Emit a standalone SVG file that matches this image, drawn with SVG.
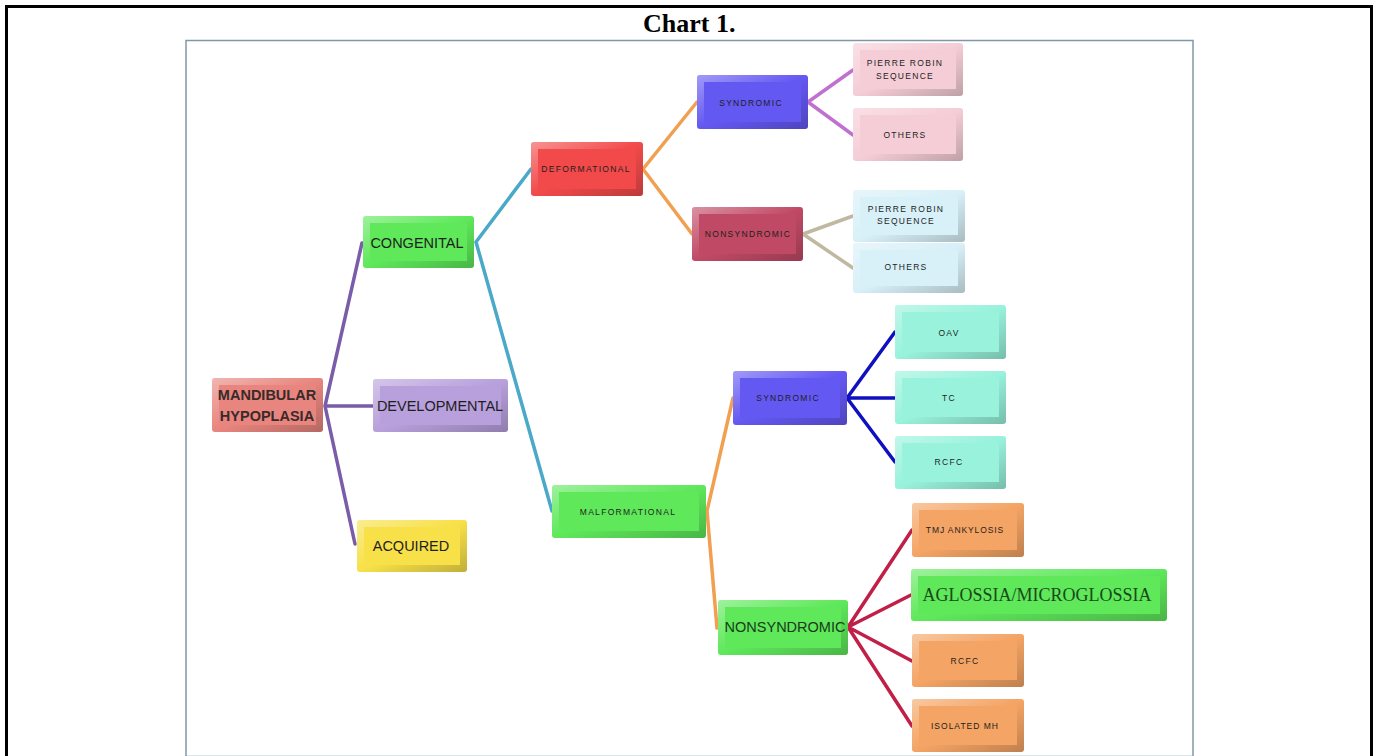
<svg xmlns="http://www.w3.org/2000/svg" width="1376" height="756" viewBox="0 0 1376 756">
<style>
.frame{fill:none;stroke:#000;stroke-width:3}
.img{fill:#fff;stroke:#7f98a8;stroke-width:1.5}
.bv{fill:url(#bev)}
.red{fill:#e8857e}.lav{fill:#b8a0dc}.yel{fill:#f7e048}.grn{fill:#5ee85a}.dred{fill:#f24a4a}
.blu{fill:#6458f2}.rasp{fill:#c04a66}.pnk{fill:#f5cdd6}.lbl{fill:#d8f0f8}.aqu{fill:#98f2dc}.org{fill:#f4a464}
text{font-family:"Liberation Sans",Arial,sans-serif;fill:#1e1e1e;text-anchor:middle}
.big{font-size:14.5px}
.sm{font-size:8.5px;letter-spacing:1.3px}
.ser{font-family:"Liberation Serif","Times New Roman",serif;font-size:18px;fill:#1a4a1a}
.title{font-family:"Liberation Serif","Times New Roman",serif;font-size:26px;font-weight:bold;fill:#000;text-anchor:start}
.c{fill:none;stroke-width:3.5;stroke-linecap:round}
</style>
<defs>
<linearGradient id="bev" x1="0" y1="0" x2="1" y2="1">
<stop offset="0" stop-color="#fff" stop-opacity="0.4"/>
<stop offset="0.5" stop-color="#fff" stop-opacity="0"/>
<stop offset="0.5" stop-color="#000" stop-opacity="0"/>
<stop offset="1" stop-color="#000" stop-opacity="0.22"/>
</linearGradient>
</defs>
<rect width="1376" height="756" fill="#fff"/>
<path class="frame" d="M6.5,760 V6.5 H1371.5 V760"/>
<text class="title" x="643" y="32">Chart 1.</text>
<rect class="img" x="186" y="40.5" width="1007" height="716"/>

<g id="connectors">
<path class="c" stroke="#7a5ca8" d="M325,406 L362,243 M325,406 L373,406 M325,406 L355,544"/>
<path class="c" stroke="#4aa8c8" d="M476,242 L531,169 M476,242 L552,511"/>
<path class="c" stroke="#f0a050" d="M643,169 L697,102 M643,169 L692,234"/>
<path class="c" stroke="#c070d0" d="M808,102 L853,70 M808,102 L853,135"/>
<path class="c" stroke="#c0b8a0" d="M803,234 L853,216 M803,234 L853,268"/>
<path class="c" stroke="#f0a050" d="M707,511 L733,398 M707,511 L717,628"/>
<path class="c" stroke="#1010c0" d="M847,398 L895,332 M847,398 L895,398 M847,398 L895,462"/>
<path class="c" stroke="#c02048" d="M848,627 L912,530 M848,627 L911,595 M848,627 L912,661 M848,627 L912,726"/>
</g>

<g id="n-root"><rect class="red" x="212" y="378" width="111" height="54" rx="3"/><rect class="bv" x="212" y="378" width="111" height="54" rx="3"/><rect class="red" x="219" y="385" width="97" height="40"/><text x="267" y="400" font-size="14.5" font-weight="bold" style="fill:#3a2a2a">MANDIBULAR</text><text x="267" y="421" font-size="14.5" font-weight="bold" style="fill:#3a2a2a">HYPOPLASIA</text></g>
<g id="n-cong"><rect class="grn" x="363" y="216" width="111" height="52" rx="3"/><rect class="bv" x="363" y="216" width="111" height="52" rx="3"/><rect class="grn" x="370" y="223" width="97" height="38"/><text class="big" x="417" y="248">CONGENITAL</text></g>
<g id="n-dev"><rect class="lav" x="373" y="379" width="135" height="53" rx="3"/><rect class="bv" x="373" y="379" width="135" height="53" rx="3"/><rect class="lav" x="380" y="386" width="121" height="39"/><text class="big" x="440" y="411">DEVELOPMENTAL</text></g>
<g id="n-acq"><rect class="yel" x="357" y="520" width="110" height="52" rx="3"/><rect class="bv" x="357" y="520" width="110" height="52" rx="3"/><rect class="yel" x="364" y="527" width="96" height="38"/><text class="big" x="411" y="551">ACQUIRED</text></g>

<g id="n-deform"><rect class="dred" x="531" y="142" width="112" height="54" rx="3"/><rect class="bv" x="531" y="142" width="112" height="54" rx="3"/><rect class="dred" x="538" y="149" width="98" height="40"/><text class="sm" x="586" y="172">DEFORMATIONAL</text></g>
<g id="n-malf"><rect class="grn" x="552" y="485" width="154" height="53" rx="3"/><rect class="bv" x="552" y="485" width="154" height="53" rx="3"/><rect class="grn" x="559" y="492" width="140" height="39"/><text class="sm" x="628" y="515">MALFORMATIONAL</text></g>

<g id="n-synd1"><rect class="blu" x="697" y="75" width="111" height="54" rx="3"/><rect class="bv" x="697" y="75" width="111" height="54" rx="3"/><rect class="blu" x="704" y="82" width="97" height="40"/><text class="sm" x="751" y="106">SYNDROMIC</text></g>
<g id="n-nons1"><rect class="rasp" x="692" y="207" width="111" height="54" rx="3"/><rect class="bv" x="692" y="207" width="111" height="54" rx="3"/><rect class="rasp" x="699" y="214" width="97" height="40"/><text class="sm" x="748" y="237">NONSYNDROMIC</text></g>
<g id="n-prs1"><rect class="pnk" x="853" y="43" width="110" height="53" rx="3"/><rect class="bv" x="853" y="43" width="110" height="53" rx="3"/><rect class="pnk" x="860" y="50" width="96" height="39"/><text class="sm" x="905" y="66" font-size="8">PIERRE ROBIN</text><text class="sm" x="905" y="79" font-size="8">SEQUENCE</text></g>
<g id="n-oth1"><rect class="pnk" x="853" y="108" width="110" height="53" rx="3"/><rect class="bv" x="853" y="108" width="110" height="53" rx="3"/><rect class="pnk" x="860" y="115" width="96" height="39"/><text class="sm" x="905" y="138" font-size="8">OTHERS</text></g>
<g id="n-prs2"><rect class="lbl" x="853" y="190" width="112" height="52" rx="3"/><rect class="bv" x="853" y="190" width="112" height="52" rx="3"/><rect class="lbl" x="860" y="197" width="98" height="38"/><text class="sm" x="906" y="212" font-size="8">PIERRE ROBIN</text><text class="sm" x="906" y="224" font-size="8">SEQUENCE</text></g>
<g id="n-oth2"><rect class="lbl" x="853" y="243" width="112" height="50" rx="3"/><rect class="bv" x="853" y="243" width="112" height="50" rx="3"/><rect class="lbl" x="860" y="250" width="98" height="36"/><text class="sm" x="906" y="270" font-size="8">OTHERS</text></g>

<g id="n-synd2"><rect class="blu" x="733" y="371" width="114" height="54" rx="3"/><rect class="bv" x="733" y="371" width="114" height="54" rx="3"/><rect class="blu" x="740" y="378" width="100" height="40"/><text class="sm" x="788" y="401">SYNDROMIC</text></g>
<g id="n-oav"><rect class="aqu" x="895" y="305" width="111" height="54" rx="3"/><rect class="bv" x="895" y="305" width="111" height="54" rx="3"/><rect class="aqu" x="902" y="312" width="97" height="40"/><text class="sm" x="949" y="336">OAV</text></g>
<g id="n-tc"><rect class="aqu" x="895" y="371" width="111" height="53" rx="3"/><rect class="bv" x="895" y="371" width="111" height="53" rx="3"/><rect class="aqu" x="902" y="378" width="97" height="39"/><text class="sm" x="949" y="401">TC</text></g>
<g id="n-rcfc1"><rect class="aqu" x="895" y="436" width="111" height="53" rx="3"/><rect class="bv" x="895" y="436" width="111" height="53" rx="3"/><rect class="aqu" x="902" y="443" width="97" height="39"/><text class="sm" x="949" y="465">RCFC</text></g>

<g id="n-nons2"><rect class="grn" x="718" y="600" width="130" height="55" rx="3"/><rect class="bv" x="718" y="600" width="130" height="55" rx="3"/><rect class="grn" x="725" y="607" width="116" height="41"/><text class="big" x="785" y="632" style="fill:#1a3a1a">NONSYNDROMIC</text></g>
<g id="n-tmj"><rect class="org" x="912" y="503" width="112" height="54" rx="3"/><rect class="bv" x="912" y="503" width="112" height="54" rx="3"/><rect class="org" x="919" y="510" width="98" height="40"/><text class="sm" x="965" y="533" style="letter-spacing:0.9px">TMJ ANKYLOSIS</text></g>
<g id="n-agl"><rect class="grn" x="911" y="569" width="256" height="52" rx="3"/><rect class="bv" x="911" y="569" width="256" height="52" rx="3"/><rect class="grn" x="918" y="576" width="242" height="38"/><text class="ser" x="1037" y="601">AGLOSSIA/MICROGLOSSIA</text></g>
<g id="n-rcfc2"><rect class="org" x="912" y="634" width="112" height="53" rx="3"/><rect class="bv" x="912" y="634" width="112" height="53" rx="3"/><rect class="org" x="919" y="641" width="98" height="39"/><text class="sm" x="965" y="664">RCFC</text></g>
<g id="n-iso"><rect class="org" x="912" y="699" width="112" height="53" rx="3"/><rect class="bv" x="912" y="699" width="112" height="53" rx="3"/><rect class="org" x="919" y="706" width="98" height="39"/><text class="sm" x="965" y="729" style="letter-spacing:1px">ISOLATED MH</text></g>
</svg>
